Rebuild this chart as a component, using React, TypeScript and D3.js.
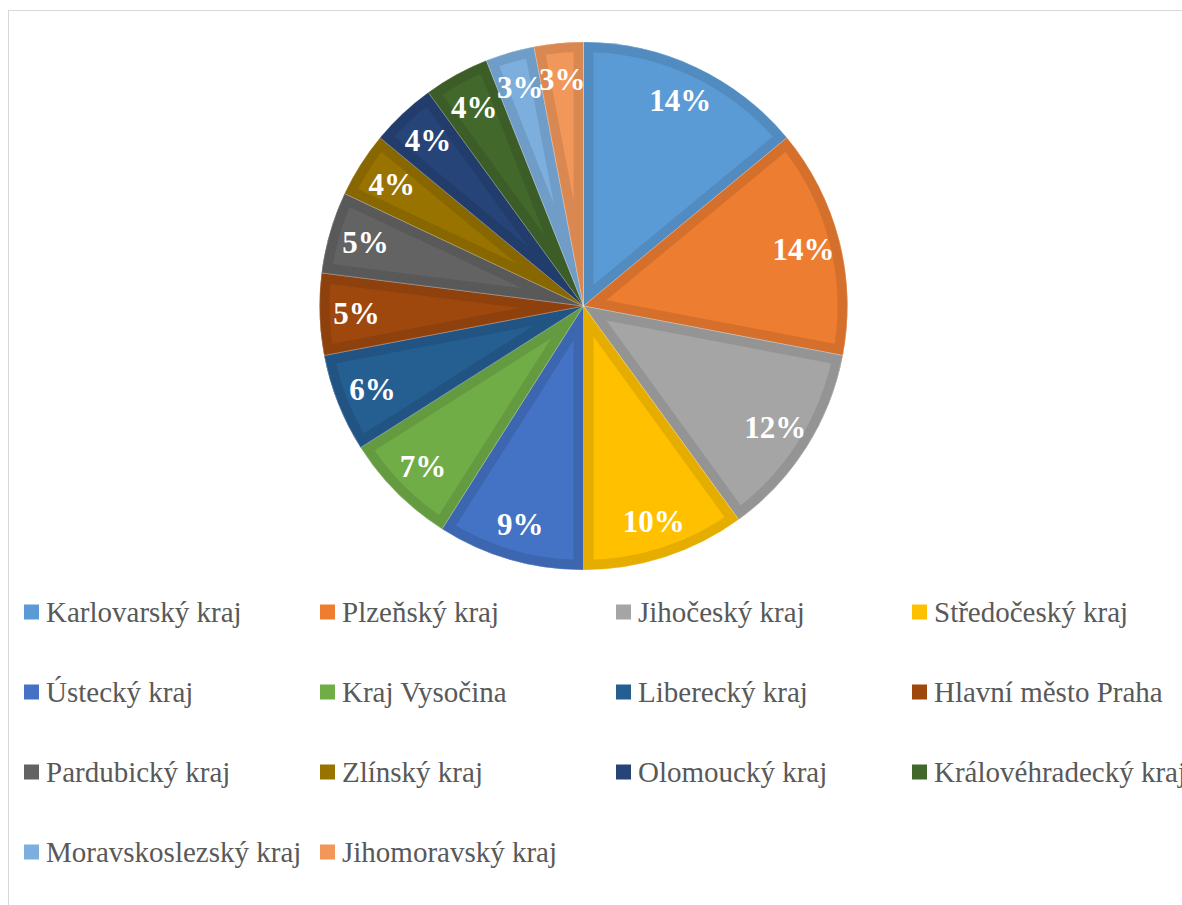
import React from "react";
import * as d3 from "d3";

const categories = [
  "Karlovarský kraj", "Plzeňský kraj", "Jihočeský kraj", "Středočeský kraj",
  "Ústecký kraj", "Kraj Vysočina", "Liberecký kraj", "Hlavní město Praha",
  "Pardubický kraj", "Zlínský kraj", "Olomoucký kraj", "Královéhradecký kraj",
  "Moravskoslezský kraj", "Jihomoravský kraj",
];
const values = [14, 14, 12, 10, 9, 7, 6, 5, 5, 4, 4, 4, 3, 3];
const colors = [
  "#5B9BD5", "#ED7D31", "#A5A5A5", "#FFC000", "#4472C4", "#70AD47", "#255E91",
  "#9E480E", "#636363", "#997300", "#264478", "#43682B", "#7CAFDD", "#F1975A",
];

const W = 1182, H = 905;
const cx = 583.5, cy = 306, R = 264;
const FONT = "'Liberation Serif', 'Times New Roman', serif";

export default function App() {
  const pie = d3.pie<number>().sort(null).value((d) => d);
  const arcs = pie(values);
  const arc = d3.arc<d3.PieArcDatum<number>>().innerRadius(0).outerRadius(R);
  const labelArc = d3.arc<d3.PieArcDatum<number>>().innerRadius(R * 0.86).outerRadius(R * 0.86);
  const total = d3.sum(values);

  const legendX = d3.scaleLinear().domain([0, 1]).range([24, 320]);
  const legendY = d3.scaleLinear().domain([0, 1]).range([612, 692]);

  return (
    <svg width={W} height={H} style={{ position: "absolute", left: 0, top: 0 }}>
      <rect x={8.5} y={10.5} width={W + 20} height={H + 20} fill="#fff" stroke="#d9d9d9" strokeWidth={1} />
      <g transform={`translate(${cx},${cy})`}>
        <defs>
          {arcs.map((a, i) => (
            <clipPath id={`clip${i}`} key={i}>
              <path d={arc(a) || ""} />
            </clipPath>
          ))}
        </defs>
        {arcs.map((a, i) => {
          const c = d3.color(colors[i])!.darker(0.3).formatHex();
          return (
            <g key={i}>
              <path d={arc(a) || ""} fill={colors[i]} />
              <path
                d={arc(a) || ""}
                fill="none"
                stroke={c}
                strokeWidth={20}
                strokeLinejoin="miter"
                clipPath={`url(#clip${i})`}
              />
              <path d={arc(a) || ""} fill="none" stroke="#fff" strokeOpacity={0.35} strokeWidth={0.75} />
            </g>
          );
        })}
        {arcs.map((a, i) => {
          const [x, y] = labelArc.centroid(a);
          return (
            <text
              key={i}
              x={x}
              y={y}
              textAnchor="middle"
              dominantBaseline="central"
              fill="#fff"
              fontFamily={FONT}
              fontWeight="bold"
              fontSize={31}
            >
              {`${Math.round((values[i] / total) * 100)}%`}
            </text>
          );
        })}
      </g>
      <g>
        {categories.map((c, i) => {
          const col = i % 4, row = Math.floor(i / 4);
          const x = legendX(col), y = legendY(row);
          return (
            <g key={i}>
              <rect x={x} y={y - 7.5} width={15} height={15} fill={colors[i]} />
              <text x={x + 22} y={y + 10} fill="#595959" fontFamily={FONT} fontSize={29}>
                {c}
              </text>
            </g>
          );
        })}
      </g>
    </svg>
  );
}
